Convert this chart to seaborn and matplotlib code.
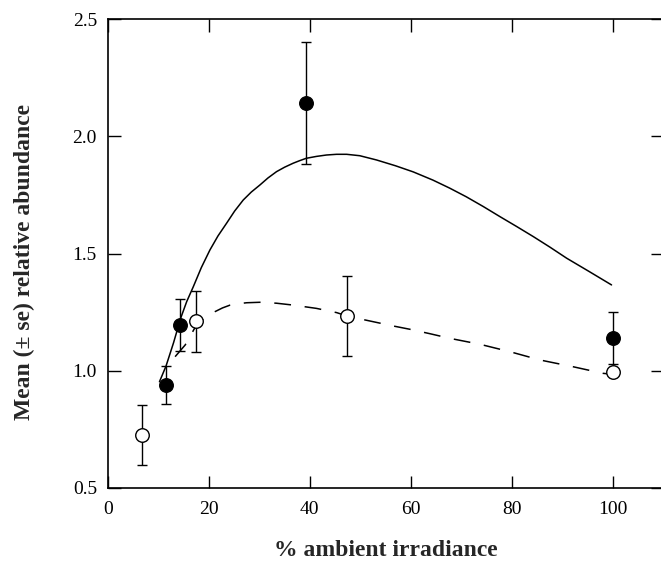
import matplotlib
matplotlib.use("Agg")
import matplotlib.pyplot as plt
import seaborn as sns
import pandas as pd

# Observed means (± se)
filled_x = [11.5, 14.3, 39.2, 100.0]
filled_y = [0.94, 1.195, 2.14, 1.14]
filled_se = [0.08, 0.11, 0.26, 0.11]

open_x = [6.7, 17.4, 47.4, 100.0]
open_y = [0.726, 1.212, 1.233, 0.993]
open_se = [0.13, 0.13, 0.17, 0.0]

# Fitted curves
solid_x = [10.2, 11.5, 13.0, 14.4, 15.6, 16.9, 18.5, 20.2, 21.8, 23.5, 25.1, 26.8, 28.4, 30.1,
           31.7, 33.4, 35.0, 36.7, 38.0, 39.3, 41.3, 43.3, 45.3, 47.3, 49.9, 53.2, 57.0,
           60.5, 64.4, 67.7, 71.0, 74.4, 77.7, 81.0, 84.3, 87.6, 90.9, 95.3, 99.8]
solid_y = [0.953, 1.02, 1.12, 1.224, 1.295, 1.358, 1.44, 1.515, 1.575, 1.629, 1.681, 1.728,
           1.762, 1.792, 1.822, 1.849, 1.868, 1.885, 1.896, 1.906, 1.914, 1.920, 1.923, 1.923,
           1.917, 1.899, 1.874, 1.848, 1.813, 1.779, 1.742, 1.700, 1.657, 1.615, 1.572,
           1.527, 1.480, 1.424, 1.366]

dash_x = [13.3, 15.3, 17.4, 19.3, 21.2, 22.7, 24.2, 25.8, 27.5, 30.1, 33.4, 36.7, 41.3,
          45.3, 47.6, 52.6, 56.5, 59.8, 63.8, 67.8, 73.7, 79.7, 85.6, 92.2, 98.1, 100.0]
dash_y = [1.06, 1.11, 1.19, 1.23, 1.252, 1.268, 1.280, 1.286, 1.290, 1.292, 1.288, 1.280,
          1.266, 1.248, 1.232, 1.209, 1.191, 1.177, 1.158, 1.138, 1.113, 1.081, 1.046,
          1.017, 0.989, 0.985]

x_ticks = [0, 20, 40, 60, 80, 100]
y_ticks = [0.5, 1.0, 1.5, 2.0, 2.5]

sns.set_style("ticks")
plt.rcParams['font.family'] = ['Liberation Serif', 'DejaVu Serif']

fig = plt.figure(figsize=(6.61, 5.64), dpi=100)
ax = fig.add_axes([108/661, 1 - 488/564, (663 - 108)/661, (488 - 19)/564])

solid_df = pd.DataFrame({"x": solid_x, "y": solid_y})
dash_df = pd.DataFrame({"x": dash_x, "y": dash_y})
sns.lineplot(data=solid_df, x="x", y="y", sort=False, color="black", lw=1.1, ax=ax, zorder=2)
sns.lineplot(data=dash_df, x="x", y="y", sort=False, color="black", lw=1.1, ax=ax, zorder=2,
             dashes=False, linestyle=(0, (11, 9)))

ax.errorbar(filled_x, filled_y, yerr=filled_se, fmt="none", ecolor="black",
            elinewidth=1.0, capsize=3.5, capthick=1.0, zorder=3)
ax.errorbar(open_x[:3], open_y[:3], yerr=open_se[:3], fmt="none", ecolor="black",
            elinewidth=1.0, capsize=3.5, capthick=1.0, zorder=3)

fdf = pd.DataFrame({"x": filled_x, "y": filled_y})
odf = pd.DataFrame({"x": open_x, "y": open_y})
sns.scatterplot(data=fdf, x="x", y="y", s=95, color="black", edgecolor="black",
                linewidth=1.0, ax=ax, zorder=4)
sns.scatterplot(data=odf, x="x", y="y", s=95, color="white", edgecolor="black",
                linewidth=1.0, ax=ax, zorder=4)

ax.set_xlim(0, 110)
ax.set_ylim(0.5, 2.5)
ax.set_xticks(x_ticks)
ax.set_xticklabels([str(t) for t in x_ticks])
ax.set_yticks(y_ticks)
ax.set_yticklabels([f"{t:.1f}" for t in y_ticks])
ax.tick_params(direction="in", length=9, width=1.0, top=True, right=True,
               labelsize=14, pad=8, colors="black")
ax.tick_params(axis="x", pad=9)
for sp in ax.spines.values():
    sp.set_linewidth(1.2)
    sp.set_color("black")

ax.set_xlabel("% ambient irradiance", fontsize=17, fontweight="bold", labelpad=16)
ax.set_ylabel("Mean (± se) relative abundance", fontsize=17, fontweight="bold")
ax.yaxis.set_label_coords(-0.131, 0.482)

fig.savefig("out.png", dpi=100)
